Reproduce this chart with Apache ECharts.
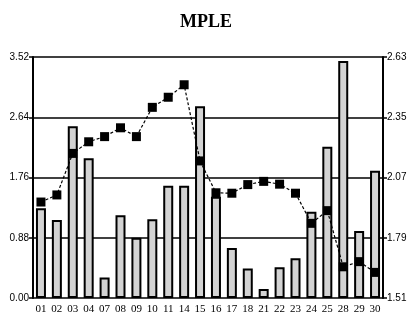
<!DOCTYPE html>
<html><head><meta charset="utf-8">
<script src="https://cdn.jsdelivr.net/npm/echarts@6/dist/echarts.min.js"></script>
<style>html,body{margin:0;padding:0;background:#fff}#c{width:412px;height:323px}</style>
</head><body><div id="c"></div>
<script>
const categories = ['01','02','03','04','07','08','09','10','11','14','15','16','17','18','21','22','23','24','25','28','29','30'];
const barValues = [1.31,1.14,2.51,2.04,0.30,1.21,0.88,1.15,1.64,1.64,2.80,1.48,0.73,0.43,0.13,0.45,0.58,1.26,2.21,3.46,0.98,1.86];
const lineValues = [1.956,1.989,2.182,2.236,2.260,2.301,2.260,2.396,2.443,2.501,2.147,1.999,1.997,2.037,2.052,2.039,1.997,1.857,1.916,1.655,1.679,1.629];
const leftTicks = [0.00,0.88,1.76,2.64,3.52];
const rightTicks = [1.51,1.79,2.07,2.35,2.63];

const chart = echarts.init(document.getElementById('c'), null, {renderer:'canvas'});
chart.setOption({
  animation:false,
  backgroundColor:'#fff',
  title:{text:'MPLE',left:'center',top:8,textStyle:{fontFamily:'Liberation Serif',fontWeight:900,fontSize:18,color:'#000'}},
  grid:{left:33,right:29,top:57,bottom:25,containLabel:false},
  xAxis:{type:'category',data:categories,
    axisLine:{show:false},axisTick:{show:false},
    axisLabel:{color:'#000',fontFamily:'Liberation Serif',fontSize:11,margin:6,interval:0}},
  yAxis:[
    {type:'value',min:leftTicks[0],max:leftTicks[leftTicks.length-1],interval:0.88,
     axisLine:{show:true,lineStyle:{color:'#000',width:2}},
     axisTick:{show:true,length:4,lineStyle:{color:'#000',width:1.5}},
     axisLabel:{color:'#000',fontFamily:'Liberation Sans',fontSize:10,margin:4,formatter:v=>v.toFixed(2)},
     splitLine:{show:true,lineStyle:{color:'#000',width:1.5}}},
    {type:'value',min:rightTicks[0],max:rightTicks[rightTicks.length-1],alignTicks:true,
     axisLine:{show:true,lineStyle:{color:'#000',width:2}},
     axisTick:{show:true,length:4,lineStyle:{color:'#000',width:1.5}},
     axisLabel:{color:'#000',fontFamily:'Liberation Sans',fontSize:10,margin:4,formatter:v=>v.toFixed(2)},
     splitLine:{show:false}}
  ],
  series:[
    {type:'bar',data:barValues,yAxisIndex:0,barWidth:10,z:2,
     itemStyle:{color:'#d3d3d3',borderColor:'#000',borderWidth:2}},
    {type:'line',data:lineValues,yAxisIndex:1,z:3,symbol:'rect',symbolSize:9,
     lineStyle:{color:'#000',width:1.2,type:[3,2]},itemStyle:{color:'#000'}}
  ]
});
</script></body></html>
